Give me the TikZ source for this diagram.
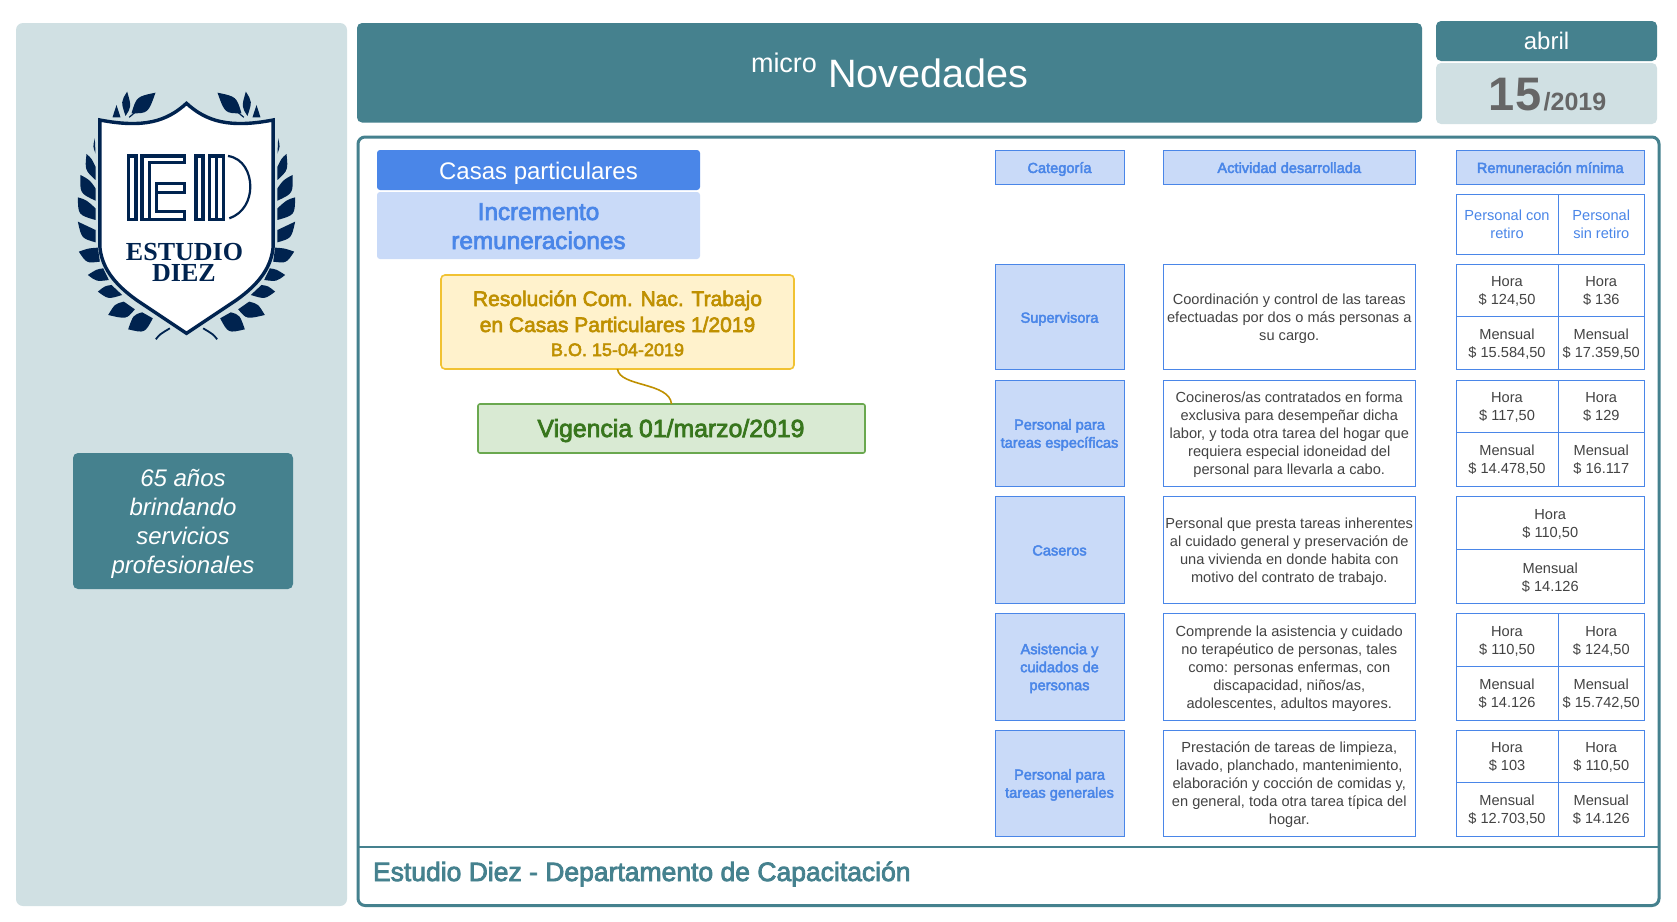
\documentclass[tikz,border=0pt]{standalone}
\usepackage{fontspec}
\setmainfont{Liberation Sans}
\newfontfamily\medfont[FakeBold=3]{Liberation Sans}
\newfontfamily\logofont{Liberation Serif}
\definecolor{tealD}{HTML}{45818E}
\definecolor{tealL}{HTML}{D0E0E3}
\definecolor{blueD}{HTML}{4A86E8}
\definecolor{blueL}{HTML}{C9DAF8}
\definecolor{yelF}{HTML}{FFF2CC}
\definecolor{yelB}{HTML}{F1C232}
\definecolor{yelT}{HTML}{BF9000}
\definecolor{grnF}{HTML}{D9EAD3}
\definecolor{grnB}{HTML}{6AA84F}
\definecolor{grnT}{HTML}{38761D}
\definecolor{navy}{HTML}{00234F}
\definecolor{bodyT}{HTML}{434343}
\definecolor{dateT}{HTML}{666666}
\newcommand{\fs}[2]{\fontsize{#1}{#2}\selectfont}
\newcommand{\bx}[7]{%
  \pgfmathsetmacro\bxw{#4-#2}\pgfmathsetmacro\bxh{#5-#3}%
  \pgfmathsetmacro\bxcx{(#2+#4)/2}\pgfmathsetmacro\bxcy{(#3+#5)/2}%
  \node[#6,minimum width=\bxw pt,minimum height=\bxh pt,inner sep=0pt,outer sep=0pt] (#1) at (\bxcx,\bxcy) {\rule{0pt}{15pt}#7\rule[-3.6pt]{0pt}{0pt}};}
\newcommand{\lf}[6]{\fill[navy] (#1) .. controls (#2) .. (#3) -- (#4) .. controls (#5) .. (#1);}
\newcommand{\laurel}{%
  \fill[navy] (-275,415) .. controls (-281,440) .. (-273,460) .. controls (-273,435) .. cycle;
  \lf{-300,462}{-285,475}{-273,500}{-273,540}{-305,510}{}
  \lf{-318,525}{-290,540}{-273,565}{-273,602}{-320,580}{}
  \lf{-326,592}{-300,600}{-273,625}{-273,660}{-325,645}{}
  \lf{-326,665}{-300,680}{-273,690}{-273,727}{-315,715}{}
  \lf{-323,755}{-295,745}{-266,743}{-260,785}{-300,790}{}
  \lf{-296,825}{-270,808}{-250,805}{-233,840}{-270,845}{}
  \lf{-266,875}{-245,858}{-225,855}{-193,885}{-235,898}{}
  \lf{-235,945}{-215,912}{-188,905}{-155,928}{-180,958}{}
  \lf{-175,988}{-160,945}{-133,937}{-101,955}{-125,1000}{}
  \fill[navy] (-210,315) -- (-222,352) -- (-198,352) -- cycle;
  \fill[navy] (-178,275) .. controls (-197,305) .. (-183,348) .. controls (-165,320) .. cycle;
  \fill[navy] (-93,278) .. controls (-150,290) .. (-165,340) .. controls (-115,340) .. cycle;
  \draw[navy,line width=1.2pt] (-172,352) -- (-140,325);
  \draw[navy,line width=1.8pt] (-92,1018) .. controls (-80,1003) .. (-50,985);
}
\tikzset{
  panel/.style={fill=tealL,rounded corners=7pt},
  tealbox/.style={fill=tealD,rounded corners=5pt,text=white},
  bluebox/.style={fill=blueD,rounded corners=3pt,text=white},
  lightbox/.style={fill=blueL,rounded corners=3pt,text=blueD},
  yelbox/.style={fill=yelF,draw=yelB,line width=1.6pt,rounded corners=4pt,text=yelT,align=center},
  grnbox/.style={fill=grnF,draw=grnB,line width=1.6pt,rounded corners=2pt,text=grnT},
  head/.style={fill=blueL,draw=blueD,line width=1pt,text=blueD,align=center,font=\medfont\fs{14.6}{18}},
  sub/.style={draw=blueD,line width=1pt,text=blueD,align=center,font=\fs{14.6}{18}},
  act/.style={draw=blueD,line width=1pt,text=bodyT,align=center,font=\fs{14.6}{18}},
  amt/.style={draw=blueD,line width=1pt,text=bodyT,align=center,font=\fs{14.6}{18}},
  label/.style={inner sep=0pt,outer sep=0pt,anchor=base},
}
\begin{document}
\begin{tikzpicture}[x=1pt,y=-1pt]
\useasboundingbox (0,0) rectangle (1677,921);
\fill[white] (0,0) rectangle (1677,921);
% left panel
\bx{side}{16}{23}{347}{906}{panel}{}
% logo
\begin{scope}[shift={(186.5,0)},x=0.3333pt,y=-0.3333pt]
  \laurel
  \begin{scope}[xscale=-1]\laurel\end{scope}
  \draw[navy,line width=3.4pt,fill=white,line join=miter]
    (0,310) .. controls (-60,365) and (-130,385) .. (-260,360)
    -- (-260,740) .. controls (-255,800) and (-220,850) .. (-150,900)
    -- (0,1000) -- (150,900)
    .. controls (220,850) and (255,800) .. (260,740)
    -- (260,360) .. controls (130,385) and (60,365) .. cycle;
\end{scope}
\begin{scope}[shift={(122,150)},x=0.3333pt,y=-0.3333pt,navy,line width=3.1pt,line join=miter]
  \draw (20,18) rectangle (42,208);
  \draw (60,18) -- (188,18) -- (188,38) -- (82,38) -- (82,208) -- (60,208) -- cycle;
  \draw (82,208) -- (188,208) -- (188,185) -- (103,185) -- (103,100) -- (188,100) -- (188,128) -- (103,128);
  \draw (222,18) rectangle (243,208);
  \draw (262,18) rectangle (283,208);
  \draw (283,18) -- (305,18) -- (305,208) -- (283,208);
  \draw[line width=2.2pt] (318,18) .. controls (365,25) and (385,70) .. (385,110) .. controls (385,150) and (365,190) .. (322,205);
\end{scope}
\node[label,text=navy,font=\logofont\bfseries\fs{26}{26}] (logo1) at (184.5,260) {ESTUDIO};
\node[label,text=navy,font=\logofont\bfseries\fs{26}{26}] (logo2) at (184,281) {DIEZ};
% slogan
\bx{slogan}{73}{453}{293}{589}{tealbox}{}
\node[label,text=white,align=center,font=\itshape\fs{24}{29}] (s1) at (183,486) {65 años};
\node[label,text=white,font=\itshape\fs{24}{29}] (s2) at (183,515) {brindando};
\node[label,text=white,font=\itshape\fs{24}{29}] (s3) at (183,544) {servicios};
\node[label,text=white,font=\itshape\fs{24}{29}] (s4) at (183,573) {profesionales};
% header
\bx{header}{357}{23}{1422}{122.5}{tealbox}{}
\node[label,text=white,font=\fs{27}{30}] (micro) at (784,72) {micro};
\node[label,text=white,font=\fs{39.6}{44}] (nov) at (928.5,87) {Novedades};
\bx{mes}{1436}{21}{1657}{61}{tealbox}{}
\node[label,text=white,font=\fs{24}{26}] (abril) at (1546.5,49) {abril};
\bx{fecha}{1436}{63}{1657}{124}{fill=tealL,rounded corners=5pt}{}
\node[label,text=dateT,font=\bfseries\fs{47}{48}] (dia) at (1515,110) {15};
\node[label,text=dateT,font=\bfseries\fs{25}{26}] (anio) at (1575,110) {/2019};
% frame
\bx{frame}{358}{137}{1659}{905.5}{draw=tealD,line width=3pt,rounded corners=7pt}{}
\draw[tealD,line width=1.8pt] (frame.west |- 0,847) -- (frame.east |- 0,847);
\node[label,anchor=base west,text=tealD,font=\medfont\fs{26.5}{30}] (foot) at (373,881) {Estudio Diez - Departamento de Capacitación};
% left titles
\bx{casas}{377}{150}{700}{190}{bluebox}{}
\node[label,text=white,font=\fs{24}{28}] (casasT) at (538.5,179) {Casas particulares};
\bx{incr}{377}{192}{700}{259}{lightbox}{}
\node[label,text=blueD,font=\medfont\fs{24.3}{28}] (inc1) at (538.5,220) {Incremento};
\node[label,text=blueD,font=\medfont\fs{24.3}{28}] (inc2) at (538.5,249) {remuneraciones};
\bx{res}{441}{275}{794}{369}{yelbox}{}
\node[label,text=yelT,font=\medfont\fs{21}{26}] (res1) at (617.5,306) {Resolución Com. Nac. Trabajo};
\node[label,text=yelT,font=\medfont\fs{21}{26}] (res2) at (617.5,332) {en Casas Particulares 1/2019};
\node[label,text=yelT,font=\medfont\fs{18}{22}] (res3) at (617.5,356) {B.O. 15-04-2019};
\bx{vig}{478}{404}{865}{453}{grnbox}{}
\node[label,text=grnT,font=\medfont\fs{24.8}{28}] (vigT) at (671,437) {Vigencia 01/marzo/2019};
\draw[yelT,line width=1.6pt] (res.south) .. controls +(2,18) and +(-2,-22) .. (vig.north);
% table headers
\bx{hCat}{995}{150.5}{1124}{184}{head}{Categoría}
\bx{hAct}{1163}{150.5}{1415.5}{184}{head}{Actividad desarrollada}
\bx{hRem}{1456}{150.5}{1644.5}{184}{head}{Remuneración mínima}
\bx{hCon}{1456}{194}{1558}{254}{sub}{Personal con\\retiro}
\bx{hSin}{1558}{194}{1644.5}{254}{sub}{Personal\\sin retiro}
% row 1
\bx{c1}{995}{264.5}{1124}{369.5}{head}{Supervisora}
\bx{a1}{1163}{264.5}{1415.5}{369.5}{act}{Coordinación y control de las tareas\\efectuadas por dos o más personas a\\su cargo.}
\bx{h1a}{1456}{264.5}{1558}{316}{amt}{Hora\\\$ 124,50}
\bx{h1b}{1558}{264.5}{1644.5}{316}{amt}{Hora\\\$ 136}
\bx{m1a}{1456}{316}{1558}{369.5}{amt}{Mensual\\\$ 15.584,50}
\bx{m1b}{1558}{316}{1644.5}{369.5}{amt}{Mensual\\\$ 17.359,50}
% row 2
\bx{c2}{995}{380}{1124}{486}{head}{Personal para\\tareas específicas}
\bx{a2}{1163}{380}{1415.5}{486}{act}{Cocineros/as contratados en forma\\exclusiva para desempeñar dicha\\labor, y toda otra tarea del hogar que\\requiera especial idoneidad del\\personal para llevarla a cabo.}
\bx{h2a}{1456}{380}{1558}{432}{amt}{Hora\\\$ 117,50}
\bx{h2b}{1558}{380}{1644.5}{432}{amt}{Hora\\\$ 129}
\bx{m2a}{1456}{432}{1558}{486}{amt}{Mensual\\\$ 14.478,50}
\bx{m2b}{1558}{432}{1644.5}{486}{amt}{Mensual\\\$ 16.117}
% row 3
\bx{c3}{995}{496}{1124}{603.5}{head}{Caseros}
\bx{a3}{1163}{496}{1415.5}{603.5}{act}{Personal que presta tareas inherentes\\al cuidado general y preservación de\\una vivienda en donde habita con\\motivo del contrato de trabajo.}
\bx{h3}{1456}{496}{1644.5}{549.5}{amt}{Hora\\\$ 110,50}
\bx{m3}{1456}{549.5}{1644.5}{603.5}{amt}{Mensual\\\$ 14.126}
% row 4
\bx{c4}{995}{613}{1124}{720}{head}{Asistencia y\\cuidados de\\personas}
\bx{a4}{1163}{613}{1415.5}{720}{act}{Comprende la asistencia y cuidado\\no terapéutico de personas, tales\\como: personas enfermas, con\\discapacidad, niños/as,\\adolescentes, adultos mayores.}
\bx{h4a}{1456}{613}{1558}{666}{amt}{Hora\\\$ 110,50}
\bx{h4b}{1558}{613}{1644.5}{666}{amt}{Hora\\\$ 124,50}
\bx{m4a}{1456}{666}{1558}{720}{amt}{Mensual\\\$ 14.126}
\bx{m4b}{1558}{666}{1644.5}{720}{amt}{Mensual\\\$ 15.742,50}
% row 5
\bx{c5}{995}{730}{1124}{836}{head}{Personal para\\tareas generales}
\bx{a5}{1163}{730}{1415.5}{836}{act}{Prestación de tareas de limpieza,\\lavado, planchado, mantenimiento,\\elaboración y cocción de comidas y,\\en general, toda otra tarea típica del\\hogar.}
\bx{h5a}{1456}{730}{1558}{782}{amt}{Hora\\\$ 103}
\bx{h5b}{1558}{730}{1644.5}{782}{amt}{Hora\\\$ 110,50}
\bx{m5a}{1456}{782}{1558}{836}{amt}{Mensual\\\$ 12.703,50}
\bx{m5b}{1558}{782}{1644.5}{836}{amt}{Mensual\\\$ 14.126}
\end{tikzpicture}
\end{document}
